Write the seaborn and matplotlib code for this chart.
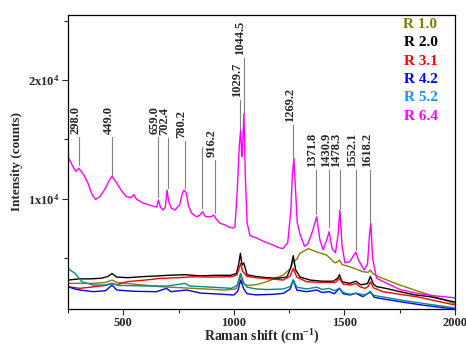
import numpy as np
import pandas as pd
import matplotlib
matplotlib.use("Agg")
import matplotlib.pyplot as plt
import seaborn as sns
from matplotlib.ticker import MultipleLocator

# ---------------- data ----------------
x_r64 = [250, 270, 285, 298, 310, 322, 340, 360, 375, 395, 420, 435, 449, 470, 495, 515, 535, 548, 560, 590,
         630, 651, 659, 668, 680, 690, 698, 705, 718, 734, 755, 768, 775, 785, 795, 809, 832, 845, 859, 872,
         892, 903, 910, 920, 937, 960, 980, 996, 1005, 1015, 1025, 1031, 1036, 1040, 1046, 1052, 1060, 1073,
         1103, 1130, 1149, 1178, 1200, 1222, 1244, 1258, 1265, 1272, 1280, 1287, 1300, 1320, 1335, 1355, 1375,
         1390, 1404, 1420, 1431, 1445, 1460, 1472, 1480, 1490, 1503, 1525, 1545, 1552, 1565, 1590, 1605, 1614,
         1620, 1628, 1646, 1700, 1751, 1800, 1855, 1920, 2000]
y_r64 = [13540, 12800, 12300, 12560, 12300, 11990, 11320, 10300, 9950, 10200, 10900, 11500, 11910, 11320, 10590, 10170,
         10100, 10350, 9950, 9640, 9400, 9300, 9890, 9300, 9050, 9300, 10730, 9800, 9200, 9050, 9500, 10500, 10730,
         10500, 9400, 8790, 8480, 8600, 8900, 8500, 8480, 8550, 8620, 8300, 7950, 7800, 7600, 7530, 7600, 10500,
         14500, 15790, 13540, 14500, 17190, 12000, 8000, 6900, 6700, 6450, 6300, 6100, 5900, 5800, 6300, 9000, 12000,
         13400, 10500, 8000, 7000, 6000, 6200, 7200, 8480, 6500, 5700, 6500, 7220, 5800, 5450, 7000, 9050, 6000,
         4600, 4700, 5300, 5500, 4800, 4000, 4500, 7000, 7930, 5000, 3300, 2800, 2350, 2150, 1950, 1800, 1650]

x_r20 = [250, 300, 350, 400, 430, 449, 470, 520, 600, 660, 700, 780, 850, 920, 985, 1012, 1022, 1030, 1037, 1045,
         1060, 1100, 1150, 1200, 1240, 1258, 1269, 1280, 1300, 1345, 1400, 1450, 1470, 1478, 1490, 1525, 1552, 1575,
         1605, 1618, 1632, 1646, 1700, 1751, 1820, 1886, 1950, 2000]
y_r20 = [3150, 3250, 3250, 3300, 3450, 3700, 3400, 3350, 3450, 3500, 3550, 3600, 3500, 3550, 3550, 3700, 4500, 5400,
         4400, 4600, 3600, 3450, 3350, 3300, 3400, 4200, 5200, 4000, 3400, 3150, 3050, 3050, 3300, 3600, 3000, 2870,
         3050, 2750, 2850, 3450, 2800, 2600, 2400, 2170, 1900, 1750, 1500, 1300]

x_r31 = [250, 304, 350, 420, 449, 470, 515, 600, 667, 750, 818, 900, 990, 1015, 1025, 1031, 1040, 1060, 1100, 1160,
         1224, 1255, 1269, 1285, 1329, 1400, 1460, 1478, 1495, 1530, 1552, 1570, 1593, 1608, 1618, 1632, 1675, 1750,
         1827, 1900, 2000]
y_r31 = [2590, 2450, 2550, 2700, 2870, 2750, 3010, 3150, 3290, 3350, 3430, 3400, 3430, 3600, 4200, 4550, 3900, 3450,
         3350, 3250, 3150, 3500, 4130, 3400, 3010, 2950, 2950, 3290, 2800, 2730, 2870, 2600, 2450, 2600, 3010, 2500,
         2170, 1950, 1750, 1450, 1050]

x_r10 = [250, 363, 420, 449, 470, 515, 667, 818, 960, 1010, 1022, 1031, 1040, 1060, 1100, 1149, 1224, 1255, 1269,
         1285, 1299, 1337, 1375, 1420, 1457, 1470, 1478, 1490, 1525, 1584, 1608, 1618, 1630, 1646, 1700, 1751, 1820,
         1886, 1950, 2000]
y_r10 = [2870, 2870, 2950, 3150, 2950, 2870, 2590, 2450, 2310, 2400, 3000, 3570, 2900, 2700, 2750, 3010, 3570, 4100,
         4690, 4900, 5400, 5800, 5520, 5260, 4600, 4700, 4830, 4450, 4270, 3850, 3800, 3990, 3700, 3500, 3100, 2730,
         2300, 1890, 1500, 1150]

x_r52 = [250, 282, 312, 363, 420, 449, 480, 600, 700, 779, 800, 900, 990, 1015, 1031, 1045, 1060, 1100, 1150, 1224,
         1255, 1269, 1285, 1330, 1375, 1400, 1431, 1455, 1478, 1495, 1525, 1552, 1590, 1618, 1635, 1700, 1751, 1850,
         2000]
y_r52 = [4110, 3710, 3010, 2730, 2730, 2870, 2700, 2650, 2650, 2870, 2650, 2550, 2450, 2700, 3710, 2900, 2550, 2400,
         2350, 2400, 2600, 3150, 2550, 2400, 2550, 2350, 2450, 2250, 2450, 2100, 1950, 2050, 1900, 2100, 1850, 1650,
         1470, 1200, 800]

x_r42 = [250, 280, 304, 363, 420, 449, 470, 550, 650, 696, 715, 787, 850, 950, 1000, 1018, 1031, 1045, 1060, 1100,
         1180, 1224, 1255, 1269, 1285, 1330, 1375, 1400, 1431, 1455, 1478, 1495, 1525, 1552, 1584, 1618, 1635, 1660,
         1751, 1850, 2000]
y_r42 = [2590, 2400, 2310, 2170, 2250, 2730, 2310, 2200, 2170, 2450, 2170, 2310, 2050, 1950, 1890, 2200, 3150, 2400,
         2000, 1900, 1950, 2030, 2400, 3150, 2300, 2170, 2310, 2100, 2170, 2000, 2450, 2000, 1890, 2030, 1750, 2170,
         1700, 1610, 1330, 1050, 700]

series_names = ["R 1.0", "R 2.0", "R 3.1", "R 4.2", "R 5.2", "R 6.4"]
line_colors = ["#808000", "#000000", "#FF0000", "#0000FF", "#008B8B", "#FF00FF"]
label_colors = ["#808000", "#000000", "#FF0000", "#0000FF", "#1E90FF", "#FF00FF"]

peak_labels = ["298.0", "449.0", "659.0", "702.4", "780.2", "", "916.2", "1029.7", "1044.5", "1269.2",
               "1371.8", "1430.9", "1478.3", "1552.1", "1618.2"]
peak_pos = [298.0, 449.0, 659.0, 702.4, 780.2, 858.0, 916.2, 1029.7, 1044.5, 1269.2,
            1371.8, 1430.9, 1478.3, 1552.1, 1618.2]
line_top = [15200, 15200, 15200, 15100, 14900, 14380, 13260, 18320, 21850, 16210,
            12420, 12420, 12420, 12420, 12420]
line_bottom = [12840, 12000, 10170, 10900, 10900, 9200, 8790, 15900, 17250, 13500,
               8710, 7610, 9220, 5680, 8040]

# ---------------- build frame ----------------
xs = [x_r10, x_r20, x_r31, x_r42, x_r52, x_r64]
ys = [y_r10, y_r20, y_r31, y_r42, y_r52, y_r64]
frames = []
for name, xv, yv in zip(series_names, xs, ys):
    frames.append(pd.DataFrame({"shift": xv, "intensity": yv, "sample": name}))
df = pd.concat(frames, ignore_index=True)

# ---------------- style ----------------
sns.set_style("ticks")
plt.rcParams["font.family"] = ["Liberation Serif", "DejaVu Serif"]
plt.rcParams["font.weight"] = "bold"
plt.rcParams["mathtext.fontset"] = "custom"
plt.rcParams["mathtext.rm"] = "Liberation Serif:bold"
plt.rcParams["mathtext.bf"] = "Liberation Serif:bold"
plt.rcParams["mathtext.it"] = "Liberation Serif:bold"
plt.rcParams["mathtext.default"] = "bf"

fig = plt.figure(figsize=(4.66, 3.45), dpi=100)
ax = fig.add_axes([0.146, 0.104, 0.830, 0.853])

sns.lineplot(data=df, x="shift", y="intensity", hue="sample", hue_order=series_names,
             palette=dict(zip(series_names, line_colors)), estimator=None, linewidth=1.0,
             legend=False, ax=ax)

# peak marker lines and labels
for lab, p, t, b in zip(peak_labels, peak_pos, line_top, line_bottom):
    ax.plot([p, p], [b, t], color="#808080", lw=0.8, zorder=1)
    if lab:
        ax.annotate(lab, xy=(p, t), xytext=(-2.5, 2), textcoords="offset points",
                    rotation=90, ha="center", va="bottom", fontsize=9, fontweight="bold")

# color legend text
for i, (name, c) in enumerate(zip(series_names, label_colors)):
    ax.text(0.955, 0.968 - i * 0.0625, name, color=c, transform=ax.transAxes,
            ha="right", va="center", fontsize=11, fontweight="bold")

ax.set_xlim(250, 2000)
ax.set_ylim(700, 25500)
ax.xaxis.set_major_locator(MultipleLocator(500))
ax.xaxis.set_minor_locator(MultipleLocator(250))
ax.set_yticks([10000, 20000])
ax.set_yticklabels(["1x10$^4$", "2x10$^4$"])
ax.yaxis.set_minor_locator(MultipleLocator(5000))
ax.tick_params(axis="both", which="major", direction="out", length=4, width=0.8, labelsize=9, pad=2)
ax.tick_params(axis="both", which="minor", direction="out", length=3, width=0.8)
for lbl in ax.get_xticklabels() + ax.get_yticklabels():
    lbl.set_fontweight("bold")
for s in ax.spines.values():
    s.set_visible(True)
    s.set_linewidth(0.9)
    s.set_color("black")

ax.set_xlabel("Raman shift (cm$^{-1}$)", fontsize=10, fontweight="bold", labelpad=-1)
ax.set_ylabel("Intensity (counts)", fontsize=9.5, fontweight="bold", labelpad=4)

fig.savefig("out.png", dpi=100)
